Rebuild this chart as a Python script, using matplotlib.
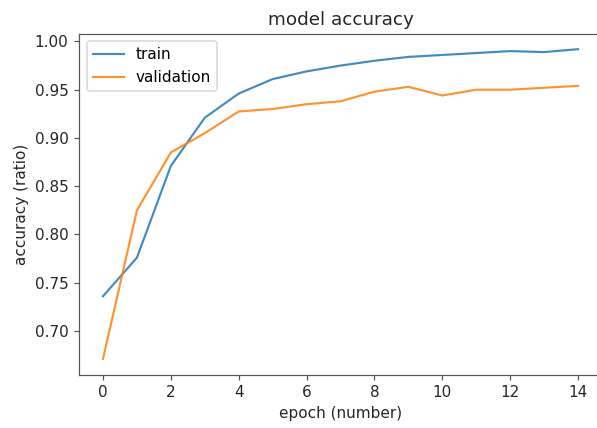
import numpy as np
from matplotlib import pyplot as plt

epochs = list(range(15))
train_acc = [0.736, 0.776, 0.871, 0.921, 0.946, 0.961, 0.969, 0.975, 0.980,
             0.984, 0.986, 0.988, 0.990, 0.989, 0.992]
val_acc = [0.671, 0.825, 0.885, 0.905, 0.9275, 0.930, 0.935, 0.938, 0.948,
           0.953, 0.944, 0.950, 0.950, 0.952, 0.954]

# rendered at 110 dpi so default font sizes match the reference
fig = plt.figure(figsize=(597 / 110, 428 / 110), dpi=110)
ax = fig.add_axes([0.1327, 0.125, 1.008 - 0.1327, 0.9213 - 0.125])

ax.plot(epochs, train_acc, color='#1f77b4', lw=1.4, alpha=0.85, label='train')
ax.plot(epochs, val_acc, color='#ff7f0e', lw=1.4, alpha=0.85, label='validation')

ax.set_title('model accuracy', color='#262626')
ax.set_xlabel('epoch (number)', color='#262626')
ax.set_ylabel('accuracy (ratio)', color='#262626')
ax.set_xticks(range(0, 15, 2))
ax.set_yticks(np.arange(0.70, 1.001, 0.05))
ax.yaxis.set_major_formatter(plt.FormatStrFormatter('%.2f'))
for s in ax.spines.values():
    s.set_color('#555555')
ax.spines['right'].set_visible(False)
ax.tick_params(colors='#555555', labelcolor='#262626')
ax.legend(loc='upper left')

plt.savefig('out.png', dpi=110)
